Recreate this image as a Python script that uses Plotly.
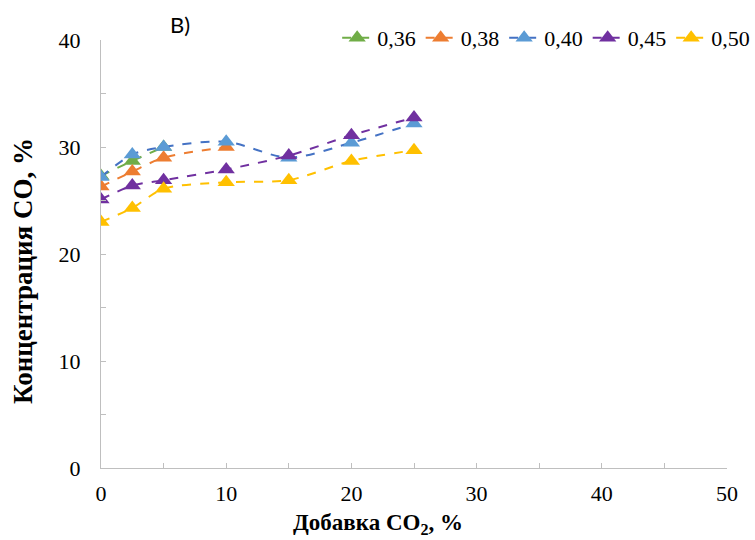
import plotly.graph_objects as go

# CO2 additive, %
x_add = [0, 2.5, 5, 10, 15, 20, 25]

# CO concentration, % for each excess-air ratio
co_036 = [27.3, 28.7, 30.0]
co_038 = [26.3, 27.7, 29.0, 30.0]
co_040 = [27.2, 29.3, 30.0, 30.5, 29.0, 30.4, 32.2]
co_045 = [25.1, 26.4, 26.9, 27.9, 29.2, 31.1, 32.75]
co_050 = [23.0, 24.3, 26.1, 26.7, 26.9, 28.7, 29.7]

series_names = ["0,36", "0,38", "0,40", "0,45", "0,50"]
series_values = [co_036, co_038, co_040, co_045, co_050]
marker_colors = ["#70AD47", "#ED7D31", "#5B9BD5", "#7030A0", "#FFC000"]
line_colors = ["#70AD47", "#ED7D31", "#4472C4", "#7030A0", "#FFC000"]

x_ticks = [0, 10, 20, 30, 40, 50]
y_ticks = [0, 10, 20, 30, 40]

serif = "'Liberation Serif', 'Times New Roman', Times, serif"

fig = go.Figure()
for name, vals, mc, lc in zip(series_names, series_values, marker_colors, line_colors):
    fig.add_trace(go.Scatter(
        x=x_add[:len(vals)], y=vals, name=name,
        mode="lines+markers",
        line=dict(color=lc, width=2, dash="dash", shape="spline", smoothing=0.8),
        marker=dict(symbol="triangle-up", size=15, color=mc),
    ))

axis_common = dict(
    showline=True, linecolor="#BFBFBF", linewidth=1,
    showgrid=False, zeroline=False,
    ticks="inside", ticklen=5, tickcolor="#BFBFBF",
    tickfont=dict(family=serif, size=22, color="#000"),
    minor=dict(ticks="inside", ticklen=5, tickcolor="#BFBFBF", dtick=5),
    automargin=False,
)

fig.update_xaxes(range=[0, 50], tickvals=x_ticks, ticklabelstandoff=6, **axis_common)
fig.update_yaxes(range=[0, 40], tickvals=y_ticks, ticklabelstandoff=15, **axis_common)

fig.update_layout(
    width=755, height=540,
    margin=dict(l=101, r=28, t=40, b=72, autoexpand=False),
    paper_bgcolor="white", plot_bgcolor="white",
    font=dict(family=serif, size=22, color="#000"),
    showlegend=True,
    legend=dict(
        orientation="h", x=1.045, xanchor="right", y=1.005, yanchor="middle",
        font=dict(family=serif, size=22, color="#000"),
        bgcolor="rgba(0,0,0,0)", itemwidth=30, tracegroupgap=0,
    ),
    annotations=[
        dict(text="В)", xref="paper", yref="paper", x=(180 - 101) / 626, y=1 + (40 - 24) / 428,
             showarrow=False, xanchor="center", yanchor="middle",
             font=dict(family="Lato", size=22, color="#000")),
        dict(text="<b>Добавка CO<sub>2</sub>, %</b>", xref="paper", yref="paper",
             x=(378 - 101) / 626, y=-(524 - 468) / 428, showarrow=False,
             xanchor="center", yanchor="middle",
             font=dict(family=serif, size=23, color="#000")),
        dict(text="<b>Концентрация CO, %</b>", xref="paper", yref="paper",
             x=-(101 - 23) / 626, y=(468 - 271) / 428, showarrow=False, textangle=-90,
             xanchor="center", yanchor="middle",
             font=dict(family=serif, size=27, color="#000")),
    ],
)

fig.write_html("out.html")
